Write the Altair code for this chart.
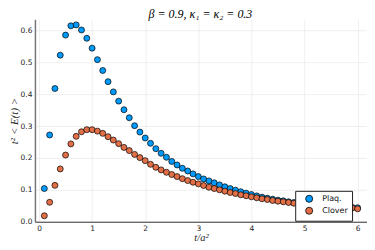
import altair as alt
import pandas as pd

t_vals = [round(0.1 * i, 1) for i in range(1, 61)]

plaq = [0.104, 0.272, 0.4175, 0.522, 0.585, 0.614, 0.617, 0.601, 0.575, 0.544,
        0.508, 0.474, 0.439, 0.407, 0.378, 0.351, 0.326, 0.301, 0.281, 0.2625,
        0.2457, 0.229, 0.2145, 0.202, 0.189, 0.178, 0.1675, 0.159, 0.150, 0.1415,
        0.134, 0.128, 0.122, 0.1155, 0.1095, 0.104, 0.099, 0.094, 0.0895, 0.0853,
        0.081, 0.077, 0.0738, 0.0706, 0.0675, 0.0655, 0.0625, 0.0603, 0.0585, 0.0567,
        0.055, 0.0534, 0.0519, 0.0505, 0.0492, 0.048, 0.0469, 0.0458, 0.0448, 0.0438]

clover = [0.0187, 0.061, 0.114, 0.1655, 0.209, 0.244, 0.2677, 0.282, 0.2885, 0.2885,
          0.284, 0.277, 0.2665, 0.256, 0.2447, 0.233, 0.223, 0.211, 0.201, 0.1915,
          0.180, 0.1706, 0.1625, 0.155, 0.148, 0.1415, 0.135, 0.129, 0.1238, 0.1187,
          0.1134, 0.108, 0.104, 0.100, 0.0957, 0.0916, 0.0884, 0.0844, 0.0813, 0.078,
          0.075, 0.072, 0.0697, 0.0666, 0.0644, 0.0625, 0.0603, 0.058, 0.0563, 0.0547,
          0.0532, 0.0518, 0.0504, 0.0491, 0.0479, 0.0467, 0.0456, 0.0445, 0.0434, 0.0405]

series_names = ["Plaq.", "Clover"]
series_colors = ["#009AFA", "#E36F47"]
title_text = "β = 0.9,  κ₁ = κ₂ = 0.3"

rows = []
for name, vals in zip(series_names, [plaq, clover]):
    for i, (t, v) in enumerate(zip(t_vals, vals)):
        rows.append({"t": t, "E": v, "series": name, "ord": i + (0 if name == "Plaq." else 100)})
df = pd.DataFrame(rows)

x_ticks = [0, 1, 2, 3, 4, 5, 6]
y_ticks = [0.0, 0.1, 0.2, 0.3, 0.4, 0.5, 0.6]

points = alt.Chart(df).mark_point(
    shape="circle", filled=True, size=36, stroke="#000000", strokeWidth=0.7, opacity=1
).encode(
    x=alt.X("t:Q", scale=alt.Scale(domain=[-0.077, 6.177], nice=False, zero=False),
            axis=alt.Axis(values=x_ticks, title="t/a²", format="d")),
    y=alt.Y("E:Q", scale=alt.Scale(domain=[0, 0.6345], nice=False),
            axis=alt.Axis(values=y_ticks, title="t² < E(t) >", format=".1f")),
    color=alt.Color("series:N",
                    scale=alt.Scale(domain=series_names, range=series_colors),
                    legend=alt.Legend(title=None, orient="none", legendX=261, legendY=172,
                                      fillColor="white", strokeColor="#222222",
                                      padding=4, symbolOffset=6, rowPadding=0,
                                      symbolSize=50, symbolStrokeColor="#000000",
                                      symbolStrokeWidth=0.8, symbolType="circle",
                                      labelFontSize=8, labelFont="DejaVu Sans",
                                      labelOffset=9, labelColor="#111111",
                                      cornerRadius=0)),
    order=alt.Order("ord:Q"),
)

title = alt.Chart(pd.DataFrame({"label": [title_text]})).mark_text(
    font="Liberation Serif", fontSize=12, fontStyle="italic", color="#000000",
    baseline="alphabetic", align="center"
).encode(
    text="label:N",
    x=alt.value(166),
    y=alt.value(-1),
)

chart = alt.layer(points, title).properties(
    width=333,
    height=203,
    autosize=alt.AutoSizeParams(type="none"),
    padding={"left": 27, "top": 11, "right": 0, "bottom": 20},
).configure_view(
    stroke=None
).configure_axis(
    grid=True,
    gridColor="#e6e6e6",
    gridWidth=0.6,
    ticks=False,
    labelFont="DejaVu Sans",
    labelFontSize=7.5,
    labelColor="#222222",
    labelPadding=3,
    domainColor="#333333",
    domainWidth=1,
    titleFont="Liberation Serif",
    titleFontSize=10.5,
    titleFontStyle="italic",
    titleFontWeight="normal",
    titleColor="#222222",
).configure_axisY(
    domainColor="#777777",
    domainWidth=1.5,
    labelPadding=3,
    titlePadding=1,
    titleFontSize=11,
).configure_axisX(
    titlePadding=0,
    labelPadding=3,
)

chart.save("out.html", embed_options={"renderer": "svg", "actions": False})
